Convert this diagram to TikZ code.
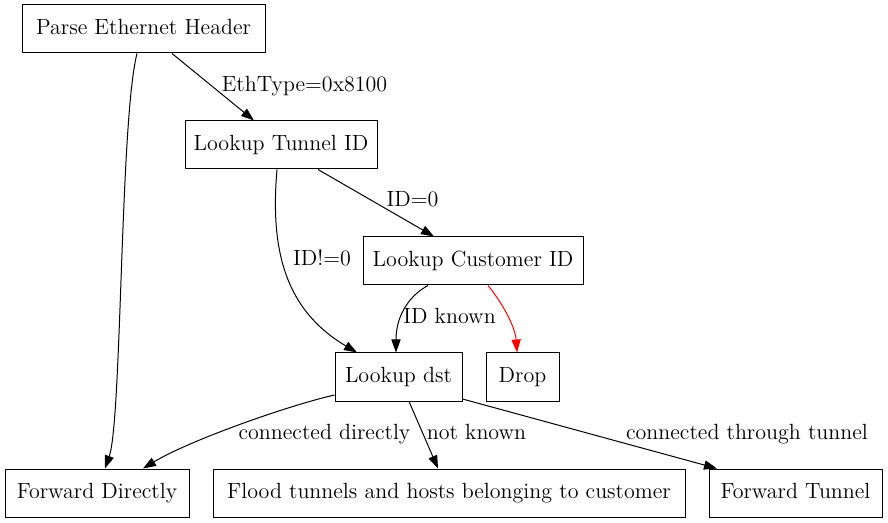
\documentclass[tikz,border=0pt]{standalone}
\usetikzlibrary{arrows.meta,calc}
\begin{document}
\begin{tikzpicture}[x=0.5pt,y=-0.5pt,
  box/.style={draw,line width=0.5pt,rectangle,minimum height=24pt,inner sep=0pt,text height=8pt,text depth=2.5pt,font=\fontsize{11}{13}\selectfont},
  lbl/.style={inner sep=0pt,text height=8pt,text depth=2.5pt,font=\fontsize{11}{13}\selectfont},
  edge/.style={line width=0.5pt,-{Triangle[length=6.5pt,width=4.6pt]}}]
\useasboundingbox (0,0) rectangle (888,523);
\node[box,minimum width=121.5pt] (parse) at (143.5,29) {Parse Ethernet Header};
\node[box,minimum width=96pt] (tunnel) at (281,145) {Lookup Tunnel ID};
\node[box,minimum width=110pt] (cust) at (473,261) {Lookup Customer ID};
\node[box,minimum width=63.5pt] (dst) at (398.5,377) {Lookup dst};
\node[box,minimum width=36.5pt] (drop) at (522.5,377) {Drop};
\node[box,minimum width=92pt] (fwd) at (97,493) {Forward Directly};
\node[box,minimum width=236pt] (flood) at (449,493) {Flood tunnels and hosts belonging to customer};
\node[box,minimum width=86.5pt] (ftun) at (795.5,493) {Forward Tunnel};

\draw[edge] ($(parse.south)+(28.5,0)$) -- ($(tunnel.north)+(-27,0)$);
\node[lbl] (l1) at (304.5,86) {EthType=0x8100};
\draw[edge] ($(parse.south)+(-6.5,0)$) .. controls (120,120) and (122,420) .. ($(fwd.north)+(8,0)$);
\draw[edge] ($(tunnel.south)+(37,0)$) -- ($(cust.north)+(-39,0)$);
\node[lbl] (l2) at (412.5,201) {ID=0};
\draw[edge] ($(tunnel.south)+(-4,0)$) .. controls (270,250) and (285,310) .. ($(dst.north)+(-41.5,0)$);
\node[lbl] (l3) at (322,260) {ID!=0};
\draw[edge] ($(cust.south)+(-45,0)$) .. controls (410,295) and (396,315) .. ($(dst.north)+(-2.5,0)$);
\node[lbl] (l4) at (449.5,318) {ID known};
\draw[edge,red] ($(cust.south)+(15,0)$) .. controls (500,300) and (515,325) .. ($(drop.north)+(-5.5,0)$);
\draw[edge] ($(dst.west)+(0,18)$) .. controls (290,405) and (190,440) .. ($(fwd.north)+(46,0)$);
\node[lbl] (l5) at (324.5,434) {connected directly};
\draw[edge] ($(dst.south)+(10.5,0)$) -- ($(flood.north)+(-11,0)$);
\node[lbl] (l6) at (476.5,434) {not known};
\draw[edge] ($(dst.east)+(0,22)$) -- ($(ftun.north)+(-78.5,0)$);
\node[lbl] (l7) at (747,434) {connected through tunnel};
\end{tikzpicture}
\end{document}
